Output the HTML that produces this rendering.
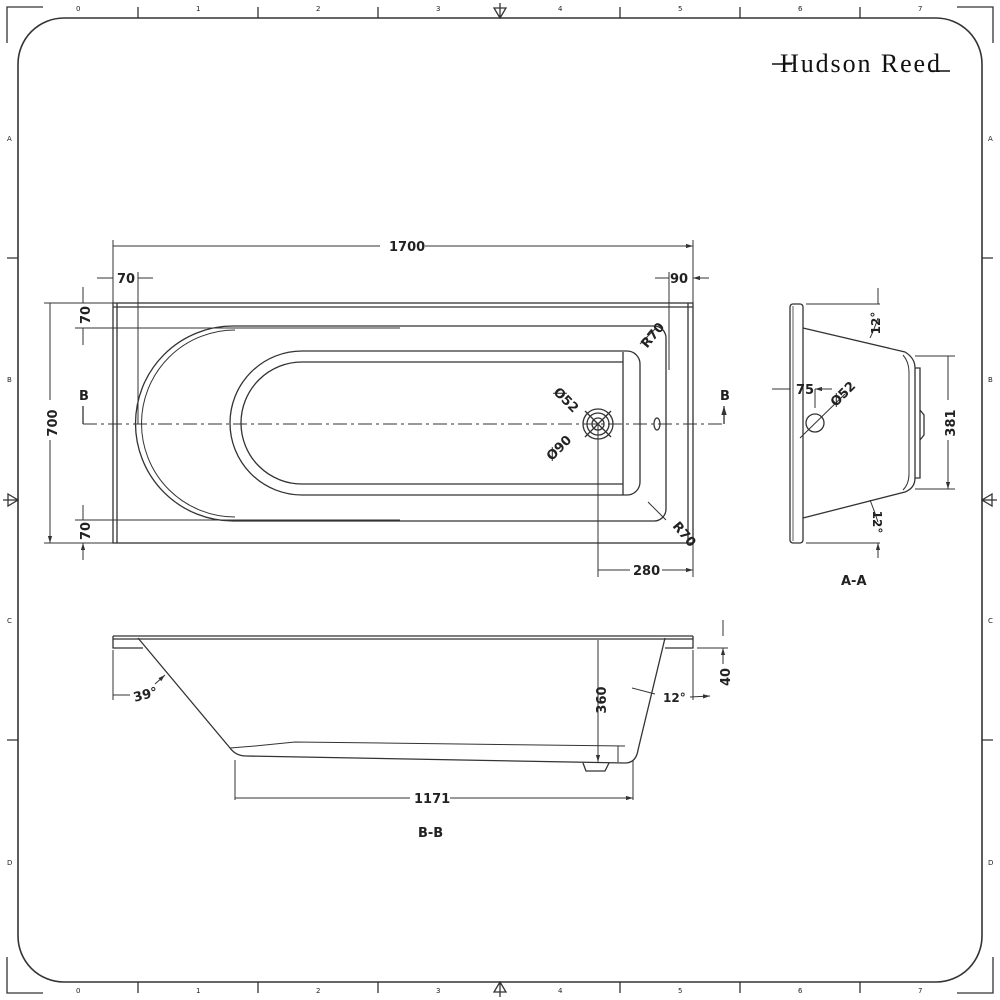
<!DOCTYPE html>
<html><head><meta charset="utf-8"><style>
html,body{margin:0;padding:0;background:#fff}
svg{display:block}
text{font-family:"DejaVu Sans","Liberation Sans",sans-serif;font-weight:bold;font-size:13px;fill:#222}
.s{font-size:7px;font-weight:normal}
</style></head><body>
<svg width="1000" height="1000" viewBox="0 0 1000 1000" xmlns="http://www.w3.org/2000/svg">
<defs>
<marker id="a" viewBox="0 0 10 10" refX="10" refY="5" markerWidth="7" markerHeight="7" orient="auto-start-reverse"><path d="M0,2 L10,5 L0,8 z" fill="#333"/></marker>
</defs>
<g fill="none" stroke="#333" stroke-width="1.3">
<rect x="18" y="18" width="964" height="964" rx="46" stroke-width="1.6"/>
<path d="M7,43 V7 H43 M957,7 H993 V43 M7,957 V993 H43 M957,993 H993 V957"/>
<path d="M138,7 V18 M258,7 V18 M378,7 V18 M620,7 V18 M740,7 V18 M860,7 V18 M138,982 V993 M258,982 V993 M378,982 V993 M620,982 V993 M740,982 V993 M860,982 V993 M7,258 H18 M7,740 H18 M982,258 H993 M982,740 H993"/>
<path d="M494,8 L500,18 L506,8 z M500,3 V18 M494,992 L500,982 L506,992 z M500,997 V982 M8,494 L18,500 L8,506 z M3,500 H18 M992,494 L982,500 L992,506 z M997,500 H982"/>
</g>
<g class="s">
<text class="s" x="76" y="11">0</text><text class="s" x="196" y="11">1</text><text class="s" x="316" y="11">2</text><text class="s" x="436" y="11">3</text><text class="s" x="558" y="11">4</text><text class="s" x="678" y="11">5</text><text class="s" x="798" y="11">6</text><text class="s" x="918" y="11">7</text>
<text class="s" x="76" y="993">0</text><text class="s" x="196" y="993">1</text><text class="s" x="316" y="993">2</text><text class="s" x="436" y="993">3</text><text class="s" x="558" y="993">4</text><text class="s" x="678" y="993">5</text><text class="s" x="798" y="993">6</text><text class="s" x="918" y="993">7</text>
<text class="s" x="7" y="141">A</text><text class="s" x="7" y="382">B</text><text class="s" x="7" y="623">C</text><text class="s" x="7" y="865">D</text>
<text class="s" x="988" y="141">A</text><text class="s" x="988" y="382">B</text><text class="s" x="988" y="623">C</text><text class="s" x="988" y="865">D</text>
</g>
<text x="780" y="72" textLength="160" style="font-family:'Liberation Serif',serif;font-weight:normal;font-size:26px;fill:#111">Hudson Reed</text>
<path d="M772,64 H792 M930,71 H950" stroke="#111" stroke-width="1.4"/>

<g fill="none" stroke="#333" stroke-width="1.3">
<rect x="113" y="303" width="580" height="240"/>
<path d="M113,307 H693 M117,303 V543 M688,303 V543"/>
<path d="M233,326 H654 A12,12 0 0 1 666,338 V509 A12,12 0 0 1 654,521 H233 A97.5,97.5 0 0 1 233,326 z"/>
<path d="M235,330 A93,93 0 0 0 235,517" stroke-width="1"/>
<path d="M302,351 H627 A13,13 0 0 1 640,364 V482 A13,13 0 0 1 627,495 H302 A72,72 0 0 1 302,351 z"/>
<path d="M302,362 H623 M623,352 V495 M302,484 H623 M302,362 A61,61 0 0 0 302,484"/>
<circle cx="598" cy="424" r="15"/><circle cx="598" cy="424" r="11"/><circle cx="598" cy="424" r="6"/>
<path d="M585,411 L611,437 M585,437 L611,411"/>
<ellipse cx="657" cy="424" rx="3" ry="6"/>
<path d="M83,424 H723" stroke-dasharray="14,4,3,4" stroke-width="1"/>
<path d="M83,424 V406 M724,424 V406" marker-end="url(#a)"/>
<path d="M113,240 V303 M693,240 V303" stroke-width="1"/>
<path d="M380,246 H113 M425,246 H693" marker-end="url(#a)" stroke-width="1"/>
<path d="M138,272 V424 M669,272 V370 M97,278 H113 M153,278 H138 M655,278 H669 M709,278 H693" marker-end="url(#a)" stroke-width="1"/>
<path d="M44,303 H113 M44,543 H113" stroke-width="1"/>
<path d="M50,400 V303 M50,440 V543" marker-end="url(#a)" stroke-width="1"/>
<path d="M75,328 H400 M75,520 H400" stroke-width="1"/>
<path d="M83,287 V303 M83,345 V328 M83,505 V520 M83,560 V543" marker-end="url(#a)" stroke-width="1"/>
<path d="M598,424 V577 M693,543 V577" stroke-width="1"/>
<path d="M630,570 H598 M662,570 H693" marker-end="url(#a)" stroke-width="1"/>
<path d="M640,344 L656,328 M648,502 L666,520" stroke-width="1"/>
</g>
<text x="389" y="251">1700</text>
<text x="117" y="283">70</text>
<text x="670" y="283">90</text>
<text transform="translate(57,423) rotate(-90)" text-anchor="middle">700</text>
<text transform="translate(90,315) rotate(-90)" text-anchor="middle">70</text>
<text transform="translate(90,531) rotate(-90)" text-anchor="middle">70</text>
<text x="633" y="575">280</text>
<text x="79" y="400">B</text><text x="720" y="400">B</text>
<text transform="translate(563,403) rotate(45)" text-anchor="middle">Ø52</text>
<text transform="translate(562,451) rotate(-45)" text-anchor="middle">Ø90</text>
<text transform="translate(656,338) rotate(-50)" text-anchor="middle">R70</text>
<text transform="translate(681,537) rotate(50)" text-anchor="middle">R70</text>

<g fill="none" stroke="#333" stroke-width="1.3">
<rect x="790" y="304" width="13" height="239" rx="3"/>
<path d="M793,306 V541" stroke-width="0.8"/>
<path d="M803,328 L905,352 Q915,358 915,368 V478 Q915,488 905,492 L803,518"/>
<path d="M903,355 Q909,362 909,372 V474 Q909,484 903,490" stroke-width="1"/>
<path d="M915,368 H920 V478 H915 M920,410 L924,415 V435 L920,440"/>
<circle cx="815" cy="423" r="9"/>
<path d="M800,438 L845,394" stroke-width="1"/>
<path d="M806,304 H880 M806,543 H880 M915,356 H955 M915,489 H955" stroke-width="1"/>
<path d="M878,288 V304 M878,558 V543" marker-end="url(#a)" stroke-width="1"/>
<path d="M948,400 V356 M948,440 V489" marker-end="url(#a)" stroke-width="1"/>
<path d="M772,389 H790 M832,389 H815" marker-end="url(#a)" stroke-width="1"/>
<path d="M815,389 V408" stroke-width="1"/>
<path d="M870,338 Q874,330 878,318 M870,500 Q874,510 878,522" stroke-width="1"/>
</g>
<text x="796" y="394">75</text>
<text transform="translate(846,397) rotate(-45)" text-anchor="middle">Ø52</text>
<text transform="translate(955,423) rotate(-90)" text-anchor="middle">381</text>
<text transform="translate(880,323) rotate(-90)" text-anchor="middle" style="font-size:12px">12°</text>
<text transform="translate(873,522) rotate(90)" text-anchor="middle" style="font-size:12px">12°</text>
<text x="841" y="585">A-A</text>

<g fill="none" stroke="#333" stroke-width="1.3">
<path d="M113,636 H693"/>
<path d="M113,636 V648 H143 M113,639 H693 M693,636 V648 H665"/>
<path d="M138,638 L230,748 Q236,756 246,756 L625,763 Q636,763 638,750 L665,638"/>
<path d="M230,748 L255,746 L295,742 L625,746" stroke-width="1"/>
<path d="M618,746 V762" stroke-width="1"/>
<path d="M583,763 L586,771 H605 L609,763"/>
<path d="M598,652 V640 M598,748 V762" marker-end="url(#a)" stroke-width="1"/>
<path d="M598,652 V748" stroke-width="1"/>
<path d="M113,650 V700 M693,650 V700 M235,760 V800 M633,760 V800 M697,648 H728" stroke-width="1"/>
<path d="M723,620 V636 M723,664 V648" marker-end="url(#a)" stroke-width="1"/>
<path d="M410,798 H235 M450,798 H633" marker-end="url(#a)" stroke-width="1"/>
<path d="M130,695 H113 M155,684 L165,675" marker-end="url(#a)" stroke-width="1"/>
<path d="M632,688 L655,694 M690,697 L710,696" marker-end="url(#a)" stroke-width="1"/>
</g>
<text transform="translate(606,700) rotate(-90)" text-anchor="middle">360</text>
<text transform="translate(730,677) rotate(-90)" text-anchor="middle">40</text>
<text x="414" y="803">1171</text>
<text x="133" y="699" transform="rotate(-15,145,694)">39°</text>
<text x="663" y="702" style="font-size:12px">12°</text>
<text x="418" y="837">B-B</text>
</svg>
</body></html>
